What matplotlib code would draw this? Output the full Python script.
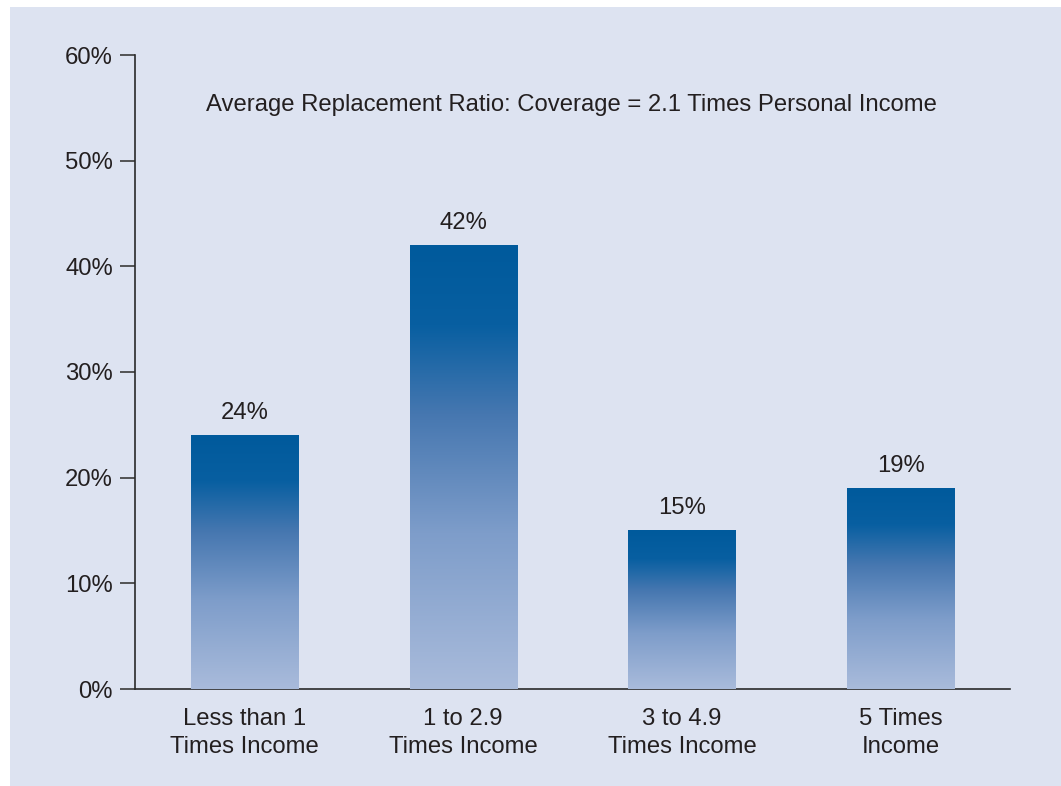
import numpy as np
import matplotlib
matplotlib.use("Agg")
import matplotlib.pyplot as plt
from matplotlib.colors import LinearSegmentedColormap
from matplotlib.patches import Rectangle

# dados
categorias = ["Less than 1\nTimes Income", "1 to 2.9\nTimes Income",
              "3 to 4.9\nTimes Income", "5 Times\nIncome"]
valores = [24, 42, 15, 19]
rotulos_y = ["0%", "10%", "20%", "30%", "40%", "50%", "60%"]
titulo = "Average Replacement Ratio: Coverage = 2.1 Times Personal Income"

plt.rcParams['font.family'] = ['Liberation Sans', 'DejaVu Sans']
fundo = "#DDE3F1"
texto = "#231F20"
tam = 17.2

fig = plt.figure(figsize=(10.61, 7.86), dpi=100)
fig.patch.set_facecolor("white")
# painel de fundo
fig.patches.append(Rectangle((10 / 1061, 0), 1, 1 - 7 / 786, transform=fig.transFigure,
                             facecolor=fundo, edgecolor="none", zorder=-5))

ax = fig.add_axes([135 / 1061, 1 - 689 / 786, 875 / 1061, 634 / 786])
ax.set_facecolor("none")

cmap = LinearSegmentedColormap.from_list(
    "grad", [(0.0, "#A9BBDB"), (0.35, "#7E9DCA"), (0.62, "#4677B0"),
             (0.82, "#085FA1"), (1.0, "#005A9C")])

largura = 0.49
x = np.arange(len(categorias))
grad = np.linspace(0, 1, 256).reshape(-1, 1)
for xi, v in zip(x, valores):
    ax.imshow(grad, cmap=cmap, origin="lower", aspect="auto",
              extent=(xi - largura / 2, xi + largura / 2, 0, v), zorder=2)
    ax.annotate(f"{v}%", (xi, v), xytext=(0, 8), textcoords="offset points",
                ha="center", va="bottom", fontsize=tam, color=texto)

ax.set_xlim(-0.5, len(categorias) - 0.5)
ax.set_ylim(0, 60)
ax.set_yticks(np.arange(0, 61, 10))
ax.set_yticklabels(rotulos_y)
ax.set_xticks(x)
ax.set_xticklabels(categorias, fontsize=tam, color=texto, linespacing=1.3)
ax.tick_params(axis="x", length=0, pad=14)
ax.tick_params(axis="y", length=11, width=1.2, color="#3a3a3a", labelsize=tam,
               labelcolor=texto, pad=5)

for s in ["top", "right"]:
    ax.spines[s].set_visible(False)
for s in ["left", "bottom"]:
    ax.spines[s].set_color("#2a2a2a")
    ax.spines[s].set_linewidth(1.2)
ax.spines["bottom"].set_zorder(1)

ax.text(1.493, 55.3, titulo, ha="center", va="center", fontsize=tam, color=texto)

fig.savefig("out.png", dpi=100, facecolor=fig.get_facecolor())
